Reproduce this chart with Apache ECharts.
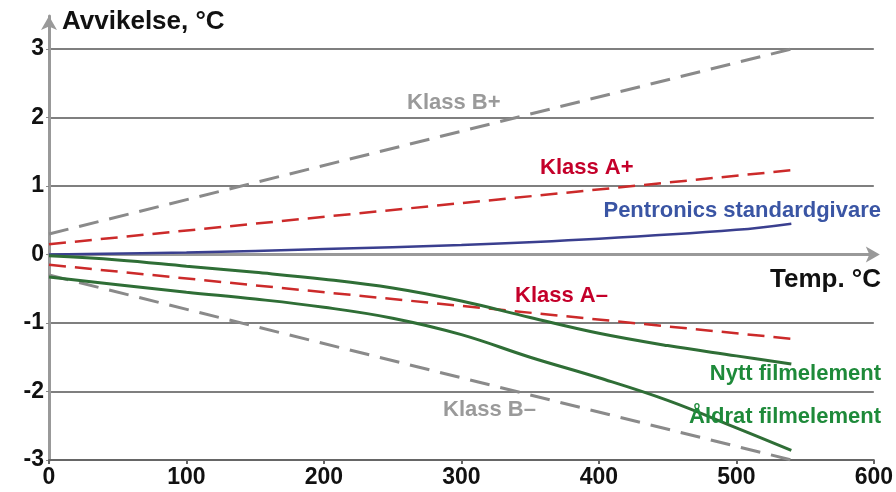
<!DOCTYPE html>
<html>
<head>
<meta charset="utf-8">
<script src="https://cdn.jsdelivr.net/npm/echarts@6/dist/echarts.min.js"></script>
<style>
  html, body { margin: 0; padding: 0; background: #fff; }
  #main { width: 896px; height: 492px; }
</style>
</head>
<body>
<div id="main"></div>
<script>
// temperatur (°C) och avvikelse (°C)
var klassBPlus  = [[0, 0.3], [540, 3.0]];
var klassBMinus = [[0, -0.3], [540, -3.0]];
var klassAPlus  = [[0, 0.15], [540, 1.23]];
var klassAMinus = [[0, -0.15], [540, -1.23]];
var pentronics  = [[0, 0], [100, 0.03], [200, 0.08], [300, 0.14], [400, 0.23], [500, 0.36], [540, 0.45]];
var nytt        = [[0, -0.02], [50, -0.08], [100, -0.17], [150, -0.26], [200, -0.36], [250, -0.49],
                   [300, -0.68], [350, -0.92], [400, -1.15], [450, -1.33], [500, -1.48], [540, -1.6]];
var aldrat      = [[0, -0.33], [50, -0.44], [100, -0.55], [150, -0.65], [200, -0.77], [250, -0.93],
                   [300, -1.17], [350, -1.5], [400, -1.8], [450, -2.13], [500, -2.53], [540, -2.86]];

var font = '"Liberation Sans", Arial, sans-serif';
var myChart = echarts.init(document.getElementById('main'));

function lbl(x, y, text, color, size, align) {
  return {
    type: 'text', x: x, y: y, z: 10,
    style: { text: text, fill: color, font: 'bold ' + size + 'px ' + font, textAlign: align || 'left', textVerticalAlign: 'middle' }
  };
}

var option = {
  animation: false,
  grid: [
    { left: 49, right: 14, top: 49, bottom: 32 },
    { left: 49, right: 14, top: 16, bottom: 32 }
  ],
  xAxis: [
    {
      type: 'value', gridIndex: 0, min: 0, max: 600, interval: 100,
      axisLine: { onZero: false, lineStyle: { color: '#666', width: 2 } },
      axisTick: { show: true, length: 4, lineStyle: { color: '#666', width: 2 } },
      axisLabel: { color: '#111', fontSize: 23, fontWeight: 'bold', fontFamily: font, margin: 6 },
      splitLine: { show: false }
    },
    {
      type: 'value', gridIndex: 0, min: 0, max: 600, position: 'bottom',
      axisLine: { onZero: true, symbol: ['none', 'arrow'], symbolSize: [12, 14], symbolOffset: [0, 6],
        lineStyle: { color: '#999', width: 3 } },
      axisTick: { show: false }, axisLabel: { show: false }, splitLine: { show: false }
    },
    {
      type: 'value', gridIndex: 1, min: 0, max: 600, show: false
    }
  ],
  yAxis: [
    {
      type: 'value', gridIndex: 0, min: -3, max: 3, interval: 1,
      axisLine: { show: false },
      axisTick: { show: true, length: 3, lineStyle: { color: '#888', width: 1 } },
      axisLabel: { color: '#111', fontSize: 23, fontWeight: 'bold', fontFamily: font, margin: 5 },
      splitLine: { show: true, lineStyle: { color: '#555', width: 1.5 } }
    },
    {
      type: 'value', gridIndex: 1, min: -3, max: 3.5,
      axisLine: { show: true, symbol: ['none', 'arrow'], symbolSize: [12, 14], lineStyle: { color: '#999', width: 3 } },
      axisTick: { show: false }, axisLabel: { show: false }, splitLine: { show: false }
    }
  ],
  series: [
    { name: 'Klass B+', type: 'line', data: klassBPlus, symbol: 'none',
      lineStyle: { color: '#8a8a8a', width: 3, type: [20, 11] } },
    { name: 'Klass B-', type: 'line', data: klassBMinus, symbol: 'none',
      lineStyle: { color: '#8a8a8a', width: 3, type: [20, 11] } },
    { name: 'Klass A+', type: 'line', data: klassAPlus, symbol: 'none',
      lineStyle: { color: '#cc2a2a', width: 2.5, type: [17, 9] } },
    { name: 'Klass A-', type: 'line', data: klassAMinus, symbol: 'none',
      lineStyle: { color: '#cc2a2a', width: 2.5, type: [17, 9] } },
    { name: 'Pentronics standardgivare', type: 'line', data: pentronics, symbol: 'none', smooth: 0.4,
      lineStyle: { color: '#3a3f8f', width: 2.5 } },
    { name: 'Nytt filmelement', type: 'line', data: nytt, symbol: 'none', smooth: 0.4,
      lineStyle: { color: '#2f6e36', width: 3 } },
    { name: 'Åldrat filmelement', type: 'line', data: aldrat, symbol: 'none', smooth: 0.4,
      lineStyle: { color: '#2f6e36', width: 3 } }
  ],
  graphic: [
    lbl(62, 22, 'Avvikelse, °C', '#111', 26),
    lbl(881, 280, 'Temp. °C', '#111', 26, 'right'),
    lbl(407, 103, 'Klass B+', '#9a9a9a', 22),
    lbl(540, 168, 'Klass A+', '#c4002a', 22),
    lbl(881, 211, 'Pentronics standardgivare', '#3a55a4', 22, 'right'),
    lbl(515, 296, 'Klass A–', '#c4002a', 22),
    lbl(881, 374, 'Nytt filmelement', '#1e8a3a', 22, 'right'),
    lbl(881, 417, 'Åldrat filmelement', '#1e8a3a', 22, 'right'),
    lbl(443, 410, 'Klass B–', '#9a9a9a', 22)
  ]
};

myChart.setOption(option);
</script>
</body>
</html>
